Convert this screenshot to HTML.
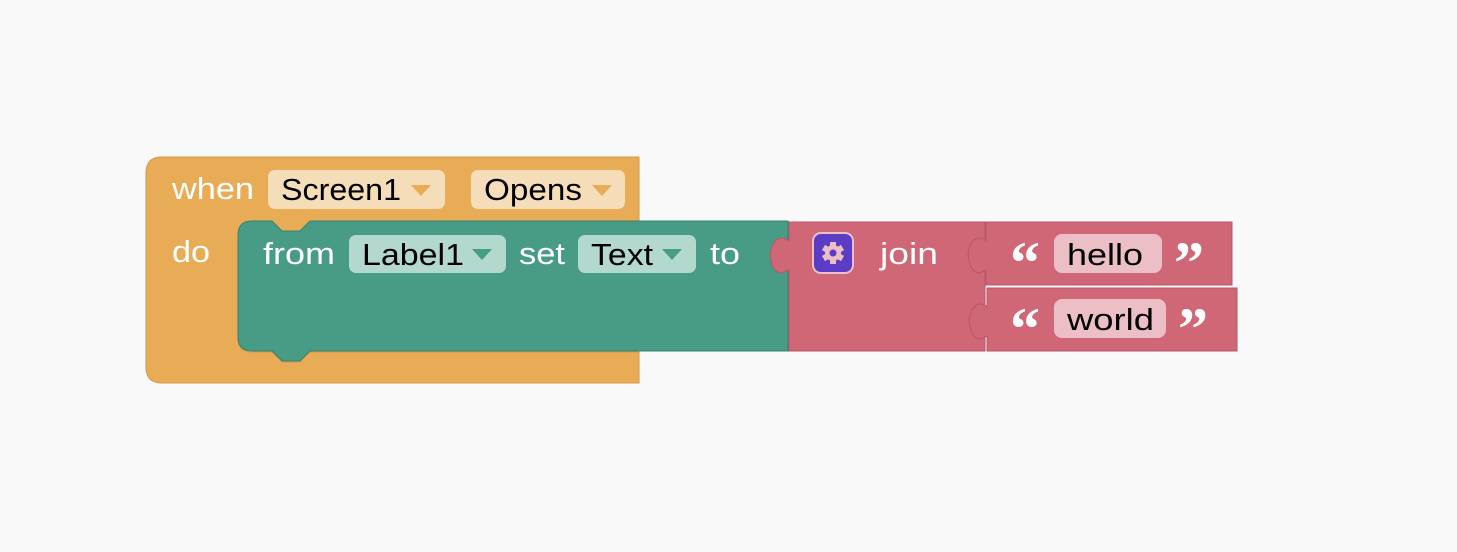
<!DOCTYPE html>
<html><head><style>
html,body{margin:0;padding:0;background:#f9f9f9;}
svg{display:block}
text{font-family:"Liberation Sans",sans-serif;font-size:31px;}
.w{fill:#fff}
.b{fill:#000}
.q{font-family:"Liberation Serif",serif;font-size:60px;font-weight:bold;fill:#fff}
</style></head><body>
<svg width="1457" height="552" viewBox="0 0 1457 552">
<path d="M146,173 Q146,157 162,157 L639,157 L639,221 L310,221 L300,231 L282,231 L272,221 L252,221 Q238,221 238,235 L238,338 Q238,352 252,352 L272,352 L282,362 L300,362 L310,352 L639,352 L639,383 L162,383 Q146,383 146,367 Z" fill="#E8AB56" stroke="#d69a48" stroke-width="1"/>
<text x="172" y="199" class="w" textLength="82" lengthAdjust="spacingAndGlyphs">when</text>
<rect x="268" y="170" width="177" height="39" rx="7" fill="#F6DDB9"/>
<text x="281" y="200" class="b" textLength="120" lengthAdjust="spacingAndGlyphs">Screen1</text>
<path d="M411,185 L431,185 L421,196 Z" fill="#E8AB56"/>
<rect x="471" y="170" width="154" height="39" rx="7" fill="#F6DDB9"/>
<text x="484" y="200" class="b" textLength="98" lengthAdjust="spacingAndGlyphs">Opens</text>
<path d="M592,185 L612,185 L602,196 Z" fill="#E8AB56"/>
<text x="172" y="262" class="w" textLength="38" lengthAdjust="spacingAndGlyphs">do</text>
<path d="M252,221 L272,221 L282,231 L300,231 L310,221 L788,221 L788,351 L310,351 L300,361 L282,361 L272,351 L252,351 Q238,351 238,337 L238,235 Q238,221 252,221 Z" fill="#489B84" stroke="#3a8370" stroke-width="1"/>
<text x="263" y="264" class="w" textLength="72" lengthAdjust="spacingAndGlyphs">from</text>
<rect x="349" y="235" width="157" height="38" rx="7" fill="#B3D8CE"/>
<text x="362" y="265" class="b" textLength="102" lengthAdjust="spacingAndGlyphs">Label1</text>
<path d="M472,249 L492,249 L482,260 Z" fill="#489B84"/>
<text x="519" y="264" class="w" textLength="46" lengthAdjust="spacingAndGlyphs">set</text>
<rect x="578" y="235" width="118" height="38" rx="7" fill="#B3D8CE"/>
<text x="591" y="265" class="b" textLength="62" lengthAdjust="spacingAndGlyphs">Text</text>
<path d="M662,249 L682,249 L672,260 Z" fill="#489B84"/>
<text x="710" y="264" class="w" textLength="30" lengthAdjust="spacingAndGlyphs">to</text>
<path d="M789,222 L985,222 L985,351 L789,351 L789,270 L782,273 Q775,273 772,265 L770,255 Q772,240 780,238 Q786,238 789,241 Z" fill="#D06777" stroke="#b8566a" stroke-width="1"/>
<rect x="813" y="233" width="40" height="40" rx="8" fill="#5B3CC4" stroke="#ecbfc6" stroke-width="2"/>
<g transform="translate(833,253)" fill="#ecbfc6">
<circle r="8"/>
<rect x="-3" y="-11" width="6" height="22"/>
<rect x="-3" y="-11" width="6" height="22" transform="rotate(60)"/>
<rect x="-3" y="-11" width="6" height="22" transform="rotate(120)"/>
<circle r="3.5" fill="#5B3CC4"/>
</g>
<text x="880" y="264" class="w" textLength="58" lengthAdjust="spacingAndGlyphs">join</text>
<path d="M986,222 L1232,222 L1232,285 L986,285 L986,270 L980,273 Q973,273 970,265 L968,255 Q970,240 978,238 Q984,238 986,241 Z" fill="#D06777" stroke="#b8566a" stroke-width="1"/>
<text x="1010" y="283" class="q">“</text>
<rect x="1054" y="234" width="108" height="39" rx="8" fill="#ECBFC6"/>
<text x="1067" y="265" class="b" textLength="76" lengthAdjust="spacingAndGlyphs">hello</text>
<text x="1174" y="283" class="q">”</text>
<path d="M987,288 L1237,288 L1237,351 L987,351 L987,336 L981,339 Q974,339 971,331 L969,321 Q971,306 979,304 Q985,304 987,307 Z" fill="#D06777" stroke="#b8566a" stroke-width="1"/>
<text x="1010" y="349" class="q">“</text>
<rect x="1054" y="299" width="112" height="39" rx="8" fill="#ECBFC6"/>
<text x="1067" y="330" class="b" textLength="87" lengthAdjust="spacingAndGlyphs">world</text>
<text x="1178" y="349" class="q">”</text>
</svg>
</body></html>
